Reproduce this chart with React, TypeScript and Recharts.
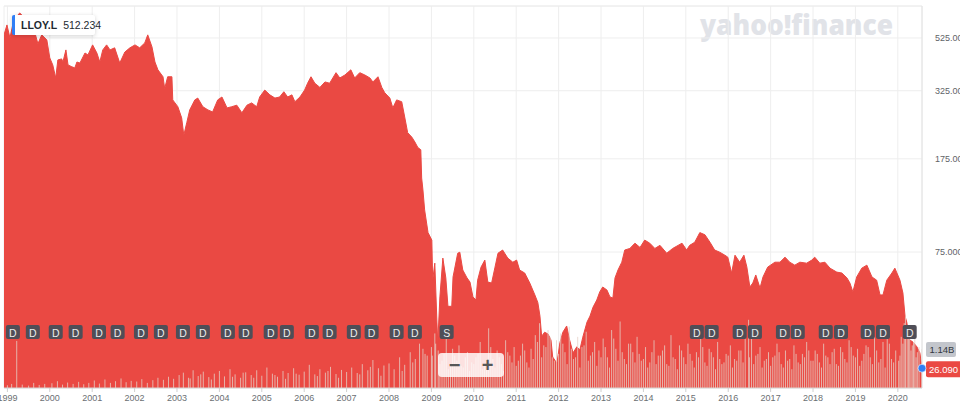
import React from 'react';
import {
  ComposedChart,
  Area,
  Scatter,
  XAxis,
  YAxis,
  CartesianGrid,
  ReferenceDot,
  ReferenceLine,
} from 'recharts';

// ---------- data ----------
const SYMBOL = 'LLOY.L';
const LEGEND_VALUE = '512.234';

// decimal-year dates of the close series
const dates = [
  1998.92, 1998.99, 1999.06, 1999.15, 1999.29, 1999.41, 1999.53, 1999.65, 1999.72, 1999.81, 1999.93,
  2000.0, 2000.07, 2000.14, 2000.19, 2000.28, 2000.31, 2000.38, 2000.43, 2000.52, 2000.59, 2000.64, 2000.71, 2000.83, 2000.9,
  2001.01, 2001.11, 2001.18, 2001.25, 2001.34, 2001.42, 2001.53, 2001.65, 2001.77, 2001.89,
  2002.01, 2002.12, 2002.24, 2002.31, 2002.41, 2002.48, 2002.55, 2002.67, 2002.71, 2002.78, 2002.88, 2002.9,
  2003.02, 2003.11, 2003.16, 2003.23, 2003.3, 2003.42, 2003.49, 2003.61, 2003.73, 2003.84, 2003.96,
  2004.06, 2004.18, 2004.29, 2004.41, 2004.53, 2004.65, 2004.76, 2004.88, 2004.95,
  2005.07, 2005.19, 2005.31, 2005.42, 2005.52, 2005.61, 2005.71, 2005.78, 2005.9,
  2006.01, 2006.08, 2006.16, 2006.25, 2006.37, 2006.49, 2006.6, 2006.75, 2006.84, 2006.96,
  2007.1, 2007.19, 2007.31, 2007.43, 2007.55, 2007.62, 2007.74, 2007.83, 2007.9,
  2008.02, 2008.09, 2008.18, 2008.3, 2008.37, 2008.44, 2008.54, 2008.61, 2008.68, 2008.75, 2008.77, 2008.8, 2008.84, 2008.92,
  2009.01, 2009.03, 2009.08, 2009.13, 2009.15, 2009.2, 2009.27, 2009.34, 2009.39, 2009.48, 2009.51, 2009.62, 2009.67, 2009.74, 2009.84, 2009.91, 2009.98,
  2010.05, 2010.09, 2010.17, 2010.26, 2010.33, 2010.42, 2010.5, 2010.57, 2010.68, 2010.8, 2010.92,
  2011.01, 2011.08, 2011.2, 2011.32, 2011.44, 2011.51, 2011.56, 2011.6, 2011.67, 2011.75, 2011.82, 2011.86, 2011.96,
  2012.03, 2012.1, 2012.19, 2012.26, 2012.34, 2012.43, 2012.5, 2012.57, 2012.67, 2012.74, 2012.81, 2012.9, 2012.97,
  2013.04, 2013.14, 2013.21, 2013.28, 2013.33, 2013.4, 2013.49, 2013.56, 2013.68, 2013.8, 2013.92,
  2014.03, 2014.15, 2014.27, 2014.39, 2014.55, 2014.69, 2014.91,
  2015.02, 2015.09, 2015.21, 2015.33, 2015.45, 2015.57, 2015.68, 2015.8, 2015.92, 2015.99,
  2016.08, 2016.16, 2016.27, 2016.37, 2016.44, 2016.51, 2016.58, 2016.65, 2016.75, 2016.82, 2016.93,
  2017.1, 2017.22, 2017.34, 2017.45, 2017.57, 2017.69, 2017.85, 2017.97,
  2018.04, 2018.16, 2018.28, 2018.4, 2018.56, 2018.68, 2018.8, 2018.87, 2018.94,
  2019.03, 2019.15, 2019.27, 2019.39, 2019.5, 2019.58, 2019.65, 2019.74, 2019.86, 2019.93,
  2020.05, 2020.12, 2020.17, 2020.21, 2020.28, 2020.35, 2020.45, 2020.52, 2020.57,
];

const closes = [
  540, 591, 525, 618, 659, 630, 591, 550, 498, 540, 516,
  438, 411, 365, 430, 434, 422, 471, 411, 404, 400, 422, 418, 458, 450,
  493, 458, 422, 471, 493, 471, 480, 418, 462, 480,
  493, 480, 502, 540, 484, 422, 393, 369, 332, 369, 369, 299,
  281, 254, 217, 243, 273, 299, 304, 281, 273, 268, 299,
  307, 278, 281, 285, 266, 285, 291, 281, 307,
  327, 313, 304, 307, 322, 307, 313, 294, 307,
  327, 348, 369, 348, 335, 352, 348, 383, 365, 375,
  393, 365, 383, 375, 365, 352, 369, 335, 319,
  304, 278, 299, 294, 256, 222, 213, 204, 194, 190, 147, 132, 110, 89.5,
  83.6, 58.1, 67.8, 39.7, 32.9, 49.9, 71, 59.3, 45.8, 45.8, 59.8, 74.2, 74.9, 63.7, 59.3, 57.1, 49.9,
  48.5, 58.1, 65.4, 69.7, 57.1, 56.6, 65.4, 74.2, 76.4, 71, 68.4,
  69.7, 63.7, 62, 56.6, 50.8, 47.4, 41.9, 34.9, 36.2, 35.6, 33.7, 28.9, 27.3,
  32.9, 36.2, 38.3, 33.7, 30.0, 31.7, 30.8, 34.6, 39.7, 41.9, 45.4, 48.5, 52.2,
  54.6, 53.1, 49.9, 49.4, 59.3, 63.7, 68.4, 76.4, 77.5, 81.3, 78.2,
  83.6, 81.3, 77.5, 79.7, 74.2, 77.5, 81.3,
  76.4, 79.7, 82, 89.5, 87.8, 82, 76.4, 74.9, 72.9, 71.6,
  62, 72.9, 68.4, 72.9, 65.4, 54.6, 56.6, 60.9, 54.1, 59.8, 65.4,
  68.4, 68.4, 71.6, 68.4, 66.6, 68.4, 67.8, 69.7,
  71.6, 67.8, 68.4, 64.8, 62.5, 62, 59.3, 56.6, 52.2,
  59.8, 64.8, 66.6, 59.8, 58.1, 50.8, 50.8, 58.1, 62, 64.8,
  58.1, 51.7, 41.9, 39.7, 33.7, 33.2, 31.7, 30.0, 26.09,
];

// volume (billions of shares); the last entry is the latest session
const volumeDates = [
  1999.0, 1999.1, 1999.22, 1999.35, 1999.5, 1999.62, 1999.75, 1999.88,
  2000.05, 2000.18, 2000.3, 2000.42, 2000.55, 2000.68, 2000.8, 2000.92,
  2001.05, 2001.17, 2001.3, 2001.43, 2001.55, 2001.68, 2001.8, 2001.92,
  2002.05, 2002.17, 2002.3, 2002.43, 2002.55, 2002.68, 2002.8, 2002.92,
  2003.05, 2003.15, 2003.27, 2003.38, 2003.5, 2003.62, 2003.75, 2003.88,
  2004.0, 2004.12, 2004.25, 2004.37, 2004.5, 2004.62, 2004.75, 2004.88,
  2005.0, 2005.12, 2005.25, 2005.37, 2005.5, 2005.62, 2005.75, 2005.88,
  2006.0, 2006.12, 2006.25, 2006.37, 2006.5, 2006.62, 2006.75, 2006.88,
  2007.0, 2007.12, 2007.25, 2007.37, 2007.5, 2007.62, 2007.75, 2007.88,
  2008.0, 2008.12, 2008.25, 2008.37, 2008.5, 2008.62, 2008.72, 2008.8, 2008.9,
  2009.0, 2009.08, 2009.16, 2009.25, 2009.35, 2009.45, 2009.55, 2009.65, 2009.75, 2009.85, 2009.95,
  2010.05, 2010.15, 2010.25, 2010.35, 2010.45, 2010.55, 2010.65, 2010.75, 2010.85, 2010.95,
  2011.05, 2011.15, 2011.25, 2011.35, 2011.45, 2011.55, 2011.65, 2011.75, 2011.85, 2011.95,
  2012.05, 2012.15, 2012.25, 2012.35, 2012.45, 2012.55, 2012.65, 2012.75, 2012.85, 2012.95,
  2013.05, 2013.15, 2013.25, 2013.35, 2013.45, 2013.55, 2013.65, 2013.75, 2013.85, 2013.95,
  2014.05, 2014.15, 2014.25, 2014.35, 2014.45, 2014.55, 2014.65, 2014.75, 2014.85, 2014.95,
  2015.05, 2015.15, 2015.25, 2015.35, 2015.45, 2015.55, 2015.65, 2015.75, 2015.85, 2015.95,
  2016.05, 2016.15, 2016.25, 2016.35, 2016.48, 2016.55, 2016.65, 2016.75, 2016.85, 2016.95,
  2017.05, 2017.15, 2017.25, 2017.35, 2017.45, 2017.55, 2017.65, 2017.75, 2017.85, 2017.95,
  2018.05, 2018.15, 2018.25, 2018.35, 2018.45, 2018.55, 2018.65, 2018.75, 2018.85, 2018.95,
  2019.05, 2019.15, 2019.25, 2019.35, 2019.45, 2019.55, 2019.65, 2019.75, 2019.85, 2019.95,
  2020.05, 2020.12, 2020.18, 2020.22, 2020.28, 2020.34, 2020.4, 2020.46,
  // in-between sessions
  2003.31, 2003.56, 2003.81, 2004.31, 2004.56, 2004.81, 2005.31, 2005.56, 2005.81,
  2006.31, 2006.56, 2006.81, 2007.31, 2007.56, 2007.81, 2008.31, 2008.56, 2008.85,
  2009.02, 2009.1, 2009.2, 2009.3, 2009.4, 2009.5, 2009.6, 2009.7, 2009.8, 2009.9,
  2010.0, 2010.1, 2010.2, 2010.3, 2010.4, 2010.5, 2010.6, 2010.7, 2010.8, 2010.9,
  2011.0, 2011.1, 2011.2, 2011.3, 2011.4, 2011.5, 2011.6, 2011.7, 2011.8, 2011.9,
  2012.0, 2012.1, 2012.2, 2012.3, 2012.4, 2012.5, 2012.6, 2012.7, 2012.8, 2012.9,
  2013.0, 2013.1, 2013.2, 2013.3, 2013.4, 2013.5, 2013.6, 2013.7, 2013.8, 2013.9,
  2014.0, 2014.1, 2014.2, 2014.3, 2014.4, 2014.5, 2014.6, 2014.7, 2014.8, 2014.9,
  2015.0, 2015.1, 2015.2, 2015.3, 2015.4, 2015.5, 2015.6, 2015.7, 2015.8, 2015.9,
  2016.0, 2016.1, 2016.2, 2016.3, 2016.4, 2016.5, 2016.6, 2016.7, 2016.8, 2016.9,
  2017.0, 2017.1, 2017.2, 2017.3, 2017.4, 2017.5, 2017.6, 2017.7, 2017.8, 2017.9,
  2018.0, 2018.1, 2018.2, 2018.3, 2018.4, 2018.5, 2018.6, 2018.7, 2018.8, 2018.9,
  2019.0, 2019.1, 2019.2, 2019.3, 2019.4, 2019.5, 2019.6, 2019.7, 2019.8, 2019.9,
  2020.02, 2020.08, 2020.15, 2020.25, 2020.31, 2020.37, 2020.43, 2020.5,
  2020.57,
];

const volumeValues = [
  0.08, 0.12, 1.38, 0.1, 0.07, 0.15, 0.09, 0.12,
  0.14, 0.2, 0.1, 0.16, 0.12, 0.18, 0.11, 0.15,
  0.22, 0.13, 0.25, 0.15, 0.2, 0.28, 0.17, 0.21,
  0.19, 0.26, 0.15, 0.23, 0.3, 0.24, 0.33, 0.27,
  0.38, 0.45, 0.3, 0.52, 0.35, 0.48, 0.32, 0.42,
  0.5, 0.34, 0.55, 0.4, 0.3, 0.46, 0.38, 0.52,
  0.36, 0.6, 0.42, 0.33, 0.5, 0.44, 0.58, 0.39,
  0.48, 0.68, 0.4, 0.55, 0.45, 0.62, 0.41, 0.53,
  0.47, 0.6, 0.44, 0.7, 0.52, 0.82, 0.58, 0.66,
  0.72, 0.55, 0.9, 0.68, 1.05, 0.85, 1.3, 1.15, 0.95,
  1.2, 1.6, 1.1, 0.8, 1.45, 0.7, 0.95, 1.25, 0.6, 1.05, 0.75,
  0.9, 1.35, 0.65, 1.75, 0.85, 1.1, 0.7, 1.4, 0.95, 1.2,
  0.8, 1.3, 0.75, 1.15, 1.55, 1.9, 1.25, 1.7, 0.9, 1.4,
  1.6, 1.05, 1.8, 0.85, 1.5, 1.2, 1.65, 0.95, 1.35, 1.1,
  1.45, 0.9, 1.7, 1.15, 1.95, 0.85, 1.3, 1.05, 1.5, 0.8,
  1.2, 0.75, 1.4, 0.95, 1.1, 0.7, 1.55, 0.85, 1.25, 0.9,
  1.3, 0.8, 1.05, 1.45, 0.75, 1.15, 0.9, 1.35, 0.7, 1.0,
  1.25, 0.85, 1.1, 0.75, 2.0, 1.45, 0.95, 1.2, 0.8, 1.05,
  0.9, 1.3, 0.7, 1.1, 0.85, 1.25, 0.75, 1.0, 1.35, 0.8,
  1.1, 0.75, 1.3, 0.9, 1.05, 0.7, 1.2, 0.85, 1.4, 0.95,
  1.15, 0.8, 1.25, 0.9, 1.5, 0.75, 1.35, 1.6, 0.85, 1.1,
  0.95, 1.3, 2.1, 1.7, 1.45, 1.25, 1.8, 1.05,
  // in-between sessions
  0.28, 0.4, 0.25, 0.33, 0.45, 0.3, 0.38, 0.27, 0.42,
  0.35, 0.5, 0.3, 0.4, 0.62, 0.36, 0.5, 0.75, 1.0,
  0.95, 1.3, 0.7, 1.0, 0.55, 1.15, 0.8, 0.65, 0.9, 0.5,
  0.7, 1.0, 0.55, 0.85, 1.2, 0.6, 0.9, 0.5, 1.05, 0.75,
  0.65, 0.95, 1.1, 0.6, 0.85, 1.35, 0.9, 1.2, 1.5, 0.8,
  1.0, 1.3, 0.7, 1.15, 0.9, 0.6, 1.25, 0.8, 1.05, 0.65,
  0.9, 1.2, 0.6, 1.45, 0.8, 1.05, 0.7, 1.3, 0.75, 1.0,
  0.85, 0.6, 1.05, 0.7, 0.95, 1.25, 0.65, 0.9, 0.55, 1.1,
  0.7, 1.0, 0.6, 0.9, 1.2, 0.65, 1.05, 0.55, 0.85, 0.75,
  0.95, 0.6, 0.8, 1.1, 1.6, 0.9, 0.7, 1.0, 0.6, 0.85,
  0.65, 0.95, 1.05, 0.6, 0.8, 0.55, 1.0, 0.7, 0.9, 1.1,
  0.8, 1.0, 0.6, 0.95, 0.7, 1.15, 0.65, 1.05, 0.75, 1.2,
  0.9, 0.65, 1.0, 1.2, 0.7, 1.1, 0.85, 0.6, 1.3, 0.75,
  0.8, 1.5, 1.9, 1.6, 1.1, 1.35, 0.9, 1.2,
  1.14,
];

// dividend (D) and split (S) events
const eventDates = [
  1999.13, 1999.6, 2000.14, 2000.61, 2001.16, 2001.6, 2002.15, 2002.62, 2003.14, 2003.61,
  2004.2, 2004.62, 2005.21, 2005.59, 2006.18, 2006.6, 2007.17, 2007.59, 2008.18, 2008.61,
  2009.36,
  2015.26, 2015.61, 2016.27, 2016.63, 2017.29, 2017.64, 2018.3, 2018.66, 2019.29, 2019.65, 2020.28,
];
const eventKinds = [
  'D', 'D', 'D', 'D', 'D', 'D', 'D', 'D', 'D', 'D',
  'D', 'D', 'D', 'D', 'D', 'D', 'D', 'D', 'D', 'D',
  'S',
  'D', 'D', 'D', 'D', 'D', 'D', 'D', 'D', 'D', 'D', 'D',
];

const yearTicks = [
  1999, 2000, 2001, 2002, 2003, 2004, 2005, 2006, 2007, 2008, 2009, 2010,
  2011, 2012, 2013, 2014, 2015, 2016, 2017, 2018, 2019, 2020,
];
const priceTicks = [75, 175, 325, 525];
const PRICE_DOMAIN = [21.8, 702];
const VOLUME_DOMAIN = [0, 11.2];

// ---------- layout / style ----------
const W = 960;
const H = 409;
const X_AXIS_H = 21;
const Y_AXIS_W = 38;
const MARGIN = { top: 6, right: 0, bottom: 0, left: 4 };
const PLOT_BOTTOM = H - X_AXIS_H - MARGIN.bottom;
const RED = '#ea4943';
const BLUE = '#2f7ef5';
const FONT = '"Liberation Sans", Arial, Helvetica, sans-serif';

const priceData = dates.map((t, i) => ({ t, close: closes[i] }));
const volumeData = volumeDates.map((t, i) => ({ t, v: volumeValues[i] }));
const eventData = eventDates.map((t, i) => ({ t, v: 0, kind: eventKinds[i] }));
const lastT = dates[dates.length - 1];
const lastClose = closes[closes.length - 1];
const lastVol = volumeValues[volumeValues.length - 1];

const VolumeBar = (props: any) => {
  const { cx, cy } = props;
  if (cx == null || cy == null) return <g />;
  return (
    <rect
      x={cx - 0.5}
      y={cy}
      width={1}
      height={Math.max(0, PLOT_BOTTOM - cy)}
      fill="rgba(230,208,198,0.78)"
    />
  );
};

const EventMarker = (props: any) => {
  const { cx, cy, payload } = props;
  if (cx == null || cy == null) return <g />;
  return (
    <g>
      <rect x={cx - 7} y={cy - 63} width={14} height={14} rx={2} fill="#4f4e57" />
      <text
        x={cx}
        y={cy - 55.5}
        textAnchor="middle"
        dominantBaseline="central"
        fontSize={10.5}
        fontFamily={FONT}
        fill="#ececec"
      >
        {payload.kind}
      </text>
    </g>
  );
};

const PriceBadge = (props: any) => {
  const { cx, cy } = props;
  if (cx == null || cy == null) return <g />;
  return (
    <g>
      <rect x={cx + 4} y={cy - 7} width={36} height={16} rx={2} fill={RED} />
      <text x={cx + 7} y={cy + 1} dominantBaseline="central" fontSize={9.5} fontFamily={FONT} fill="#ffffff">
        {lastClose.toFixed(3)}
      </text>
      <circle cx={cx} cy={cy} r={4} fill={BLUE} stroke="#ffffff" strokeWidth={0.6} />
    </g>
  );
};

const VolumeBadge = (props: any) => {
  const { cx, cy } = props;
  if (cx == null || cy == null) return <g />;
  return (
    <g>
      <rect x={cx + 4} y={cy - 7} width={30} height={15} rx={2} fill="#c3c6cc" />
      <text x={cx + 7.5} y={cy + 0.5} dominantBaseline="central" fontSize={9.5} fontFamily={FONT} fill="#333840">
        {lastVol.toFixed(2) + 'B'}
      </text>
    </g>
  );
};

export default function App() {
  return (
    <div style={{ position: 'absolute', left: 0, top: 0, width: W, height: H, background: '#fff', fontFamily: FONT }}>
      <svg width={W} height={H} style={{ position: 'absolute', left: 0, top: 0 }}>
        <text
          x={700}
          y={35}
          textLength={193}
          lengthAdjust="spacingAndGlyphs"
          fontSize={28}
          fontWeight={800}
          fontFamily='"Open Sans", "DejaVu Sans", sans-serif'
          fill="#e1e3e8"
        >
          yahoo!finance
        </text>
      </svg>
      <div style={{ position: 'absolute', left: 0, top: 0 }}>
        <ComposedChart width={W} height={H} data={priceData} margin={MARGIN}>
          <CartesianGrid yAxisId="price" stroke="#eeeeee" strokeWidth={1} />
          <XAxis
            dataKey="t"
            type="number"
            domain={[dates[0], lastT]}
            allowDataOverflow
            ticks={yearTicks}
            interval={0}
            height={X_AXIS_H}
            tickFormatter={(v: number) => String(v)}
            tick={{ fontSize: 9, fill: '#6b6f73', fontFamily: FONT }}
            tickLine={{ stroke: '#cfcfcf' }}
            tickSize={4}
            tickMargin={3}
            axisLine={{ stroke: '#d6d6d6' }}
          />
          <YAxis
            yAxisId="price"
            orientation="right"
            scale="log"
            domain={PRICE_DOMAIN}
            allowDataOverflow
            ticks={priceTicks}
            interval={0}
            width={Y_AXIS_W}
            tickFormatter={(v: number) => v.toFixed(3)}
            tick={{ fontSize: 9, fill: '#5f6368', fontFamily: FONT, textAnchor: 'start' }}
            tickLine={false}
            tickMargin={7}
            axisLine={{ stroke: '#e2e2e2' }}
          />
          <YAxis yAxisId="vol" dataKey="v" hide domain={VOLUME_DOMAIN} allowDataOverflow />
          <ReferenceLine yAxisId="price" y={PRICE_DOMAIN[1]} stroke="#ececec" />
          <Area
            yAxisId="price"
            type="linear"
            dataKey="close"
            stroke={RED}
            strokeWidth={1}
            fill={RED}
            fillOpacity={1}
            baseValue="dataMin"
            isAnimationActive={false}
            dot={false}
            activeDot={false}
          />
          <Scatter
            yAxisId="vol"
            data={volumeData}
            dataKey="v"
            shape={VolumeBar}
            isAnimationActive={false}
          />
          <Scatter
            yAxisId="vol"
            data={eventData}
            dataKey="v"
            shape={EventMarker}
            isAnimationActive={false}
          />
          <ReferenceDot yAxisId="vol" x={lastT} y={lastVol} shape={VolumeBadge} />
          <ReferenceDot yAxisId="price" x={lastT} y={lastClose} shape={PriceBadge} />
        </ComposedChart>
      </div>
      {/* legend */}
      <div
        style={{
          position: 'absolute',
          left: 12,
          top: 15,
          width: 83,
          height: 20,
          boxSizing: 'border-box',
          background: '#fff',
          borderLeft: `3px solid ${BLUE}`,
          borderRadius: 2,
          boxShadow: '0 1px 4px rgba(0,0,0,0.18)',
          display: 'flex',
          alignItems: 'center',
          paddingLeft: 6,
          fontSize: 10.5,
          color: '#232a31',
          whiteSpace: 'nowrap',
        }}
      >
        <span style={{ fontWeight: 700 }}>{SYMBOL}</span>
        <span style={{ marginLeft: 6, fontWeight: 500 }}>{LEGEND_VALUE}</span>
      </div>
      {/* zoom control */}
      <div
        style={{
          position: 'absolute',
          left: 438,
          top: 353,
          width: 66,
          height: 24,
          background: 'rgba(255,255,255,0.84)',
          borderRadius: 4,
          display: 'flex',
          alignItems: 'center',
          justifyContent: 'space-around',
          color: '#575757',
          fontSize: 20,
          fontWeight: 700,
          lineHeight: '24px',
        }}
      >
        <span>−</span>
        <span>+</span>
      </div>
    </div>
  );
}
